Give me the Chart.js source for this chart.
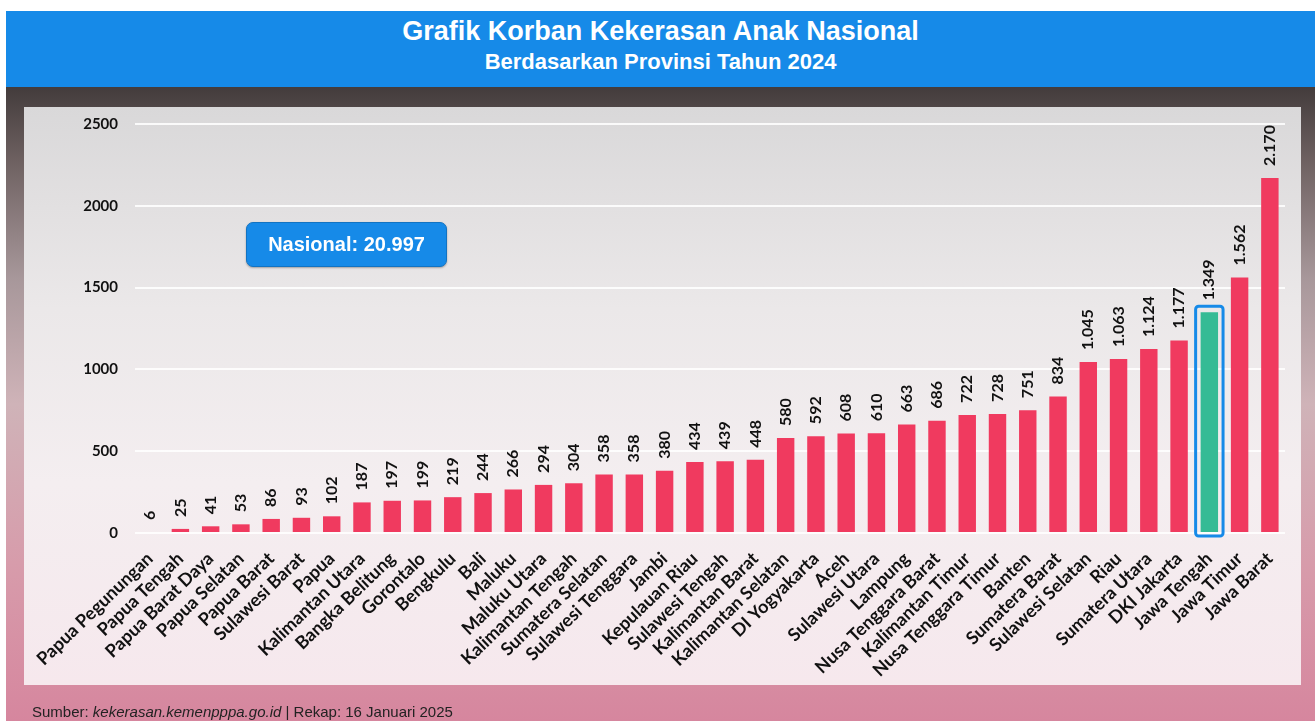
<!DOCTYPE html>
<html>
<head>
<meta charset="utf-8">
<script src="https://cdn.jsdelivr.net/npm/chart.js@4.4.1/dist/chart.umd.min.js"></script>
<style>
    html, body { margin: 0; padding: 0; background: #fff; }
    body { width: 1315px; height: 721px; position: relative; overflow: hidden; font-family: 'Liberation Sans', Arial, sans-serif; }
    .header { position: absolute; left: 6px; top: 11px; width: 1309px; height: 76px; background: #168ae8; color: #fff; text-align: center; font-weight: bold; }
    .header .t1 { position: absolute; left: 0; right: 0; top: 4px; font-size: 27px; line-height: 32px; }
    .header .t2 { position: absolute; left: 0; right: 0; top: 38px; font-size: 22px; line-height: 26px; }
    .frame { position: absolute; left: 6px; top: 87px; width: 1309px; height: 634px;
        background: linear-gradient(#433c3c 0%, #6f6262 12%, #a7979a 30%, #cfb3b8 50%, #d79cab 75%, #d6869e 100%); }
    .panel { position: absolute; left: 24px; top: 107px; width: 1277px; height: 578px;
        background: linear-gradient(#d9d8d9 0%, #ebe8e9 35%, #f4eef0 65%, #f6e8ed 100%); }
    .footer { position: absolute; left: 32px; top: 703px; font-size: 15px; color: #222; }
    .nasional { position: absolute; left: 246px; top: 222px; width: 199px; height: 43px; background: #168ae8;
        border: 1px solid #1273c2; border-radius: 7px; color: #fff; font-weight: bold; font-size: 20px;
        line-height: 43px; text-align: center; box-shadow: 0 1px 2px rgba(0,0,0,0.3); }
    canvas { position: absolute; left: 0; top: 0; }
</style>
</head>
<body>
<div class="header">
    <div class="t1">Grafik Korban Kekerasan Anak Nasional</div>
    <div class="t2">Berdasarkan Provinsi Tahun 2024</div>
</div>
<div class="frame"></div>
<div class="panel"></div>
<canvas id="korban-by-provinsi" width="1315" height="721"></canvas>
<div class="nasional">Nasional: <span id="nasional-total"></span></div>
<div class="footer">Sumber: <i>kekerasan.kemenpppa.go.id</i> | Rekap: 16 Januari 2025</div>

<script>
const provinces = [
    'Papua Pegunungan', 'Papua Tengah', 'Papua Barat Daya', 'Papua Selatan', 'Papua Barat',
    'Sulawesi Barat', 'Papua', 'Kalimantan Utara', 'Bangka Belitung', 'Gorontalo',
    'Bengkulu', 'Bali', 'Maluku', 'Maluku Utara', 'Kalimantan Tengah',
    'Sumatera Selatan', 'Sulawesi Tenggara', 'Jambi', 'Kepulauan Riau', 'Sulawesi Tengah',
    'Kalimantan Barat', 'Kalimantan Selatan', 'DI Yogyakarta', 'Aceh', 'Sulawesi Utara',
    'Lampung', 'Nusa Tenggara Barat', 'Kalimantan Timur', 'Nusa Tenggara Timur', 'Banten',
    'Sumatera Barat', 'Sulawesi Selatan', 'Riau', 'Sumatera Utara', 'DKI Jakarta',
    'Jawa Tengah', 'Jawa Timur', 'Jawa Barat'
];
const victims = [
    6, 25, 41, 53, 86,
    93, 102, 187, 197, 199,
    219, 244, 266, 294, 304,
    358, 358, 380, 434, 439,
    448, 580, 592, 608, 610,
    663, 686, 722, 728, 751,
    834, 1045, 1063, 1124, 1177,
    1349, 1562, 2170
];
const yTicks = [0, 500, 1000, 1500, 2000, 2500];
const highlighted = 'Jawa Tengah';

const BAR_COLOR = '#f03a5f';
const HIGHLIGHT_COLOR = '#35bb95';
const BLUE = '#168ae8';

// indonesian thousand separator: 1.349
function formatNumber (n) {
    return String(n).replace(/\B(?=(\d{3})+(?!\d))/g, '.');
}

document.getElementById('nasional-total').textContent =
    formatNumber(victims.reduce((acc, curr) => acc + curr, 0));

// value labels, rotated above each bar
const valueLabels = {
    id: 'valueLabels',
    afterDatasetsDraw (chart) {
        const ctx = chart.ctx;
        const meta = chart.getDatasetMeta(0);
        ctx.save();
        ctx.font = 'bold 16px Lato, sans-serif';
        ctx.fillStyle = '#111';
        ctx.textAlign = 'left';
        ctx.textBaseline = 'middle';
        meta.data.forEach((bar, i) => {
            ctx.save();
            ctx.translate(bar.x, bar.y - 12);
            ctx.rotate(-Math.PI / 2);
            ctx.fillText(formatNumber(victims[i]), 0, 0);
            ctx.restore();
        });
        ctx.restore();
    }
};

// blue outline round the highlighted province
const highlightBox = {
    id: 'highlightBox',
    afterDatasetsDraw (chart) {
        const i = provinces.indexOf(highlighted);
        if (i < 0) {
            return;
        }
        const bar = chart.getDatasetMeta(0).data[i];
        const ctx = chart.ctx;
        const left = bar.x - bar.width / 2 - 5;
        const right = bar.x + bar.width / 2 + 5;
        const top = bar.y - 6;
        const bottom = bar.base + 4;
        ctx.save();
        ctx.strokeStyle = BLUE;
        ctx.lineWidth = 3;
        ctx.beginPath();
        ctx.roundRect(left, top, right - left, bottom - top, 3);
        ctx.stroke();
        ctx.restore();
    }
};

new Chart(
    document.getElementById('korban-by-provinsi'),
    {
        type: 'bar',
        data: {
            labels: provinces,
            datasets: [
                {
                    label: 'Korban',
                    data: victims,
                    backgroundColor: provinces.map(p => p === highlighted ? HIGHLIGHT_COLOR : BAR_COLOR),
                    borderWidth: 0,
                    categoryPercentage: 0.8,
                    barPercentage: 0.72
                }
            ]
        },
        options: {
            responsive: false,
            animation: false,
            devicePixelRatio: 1,
            layout: {
                padding: { left: 75, right: 30, top: 124, bottom: 38 }
            },
            plugins: {
                legend: { display: false },
                title: { display: false },
                tooltip: { enabled: false }
            },
            scales: {
                x: {
                    grid: { display: false, drawTicks: false },
                    border: { display: false },
                    ticks: {
                        autoSkip: false,
                        minRotation: 44,
                        maxRotation: 44,
                        padding: 15,
                        color: '#111',
                        font: { family: 'Lato', weight: 'bold', size: 18 }
                    },
                    afterFit: scale => { scale.height = 150; }
                },
                y: {
                    min: 0,
                    max: 2500,
                    afterBuildTicks: scale => {
                        scale.ticks = yTicks.map(v => ({ value: v }));
                    },
                    grid: { color: 'rgba(255,255,255,0.85)', lineWidth: 2, drawTicks: false },
                    border: { display: false },
                    ticks: {
                        padding: 17,
                        color: '#111',
                        font: { family: 'Lato', weight: 'bold', size: 15 },
                        callback: value => String(value)
                    },
                    afterFit: scale => { scale.width = 60; }
                }
            }
        },
        plugins: [valueLabels, highlightBox]
    }
);
</script>
</body>
</html>
